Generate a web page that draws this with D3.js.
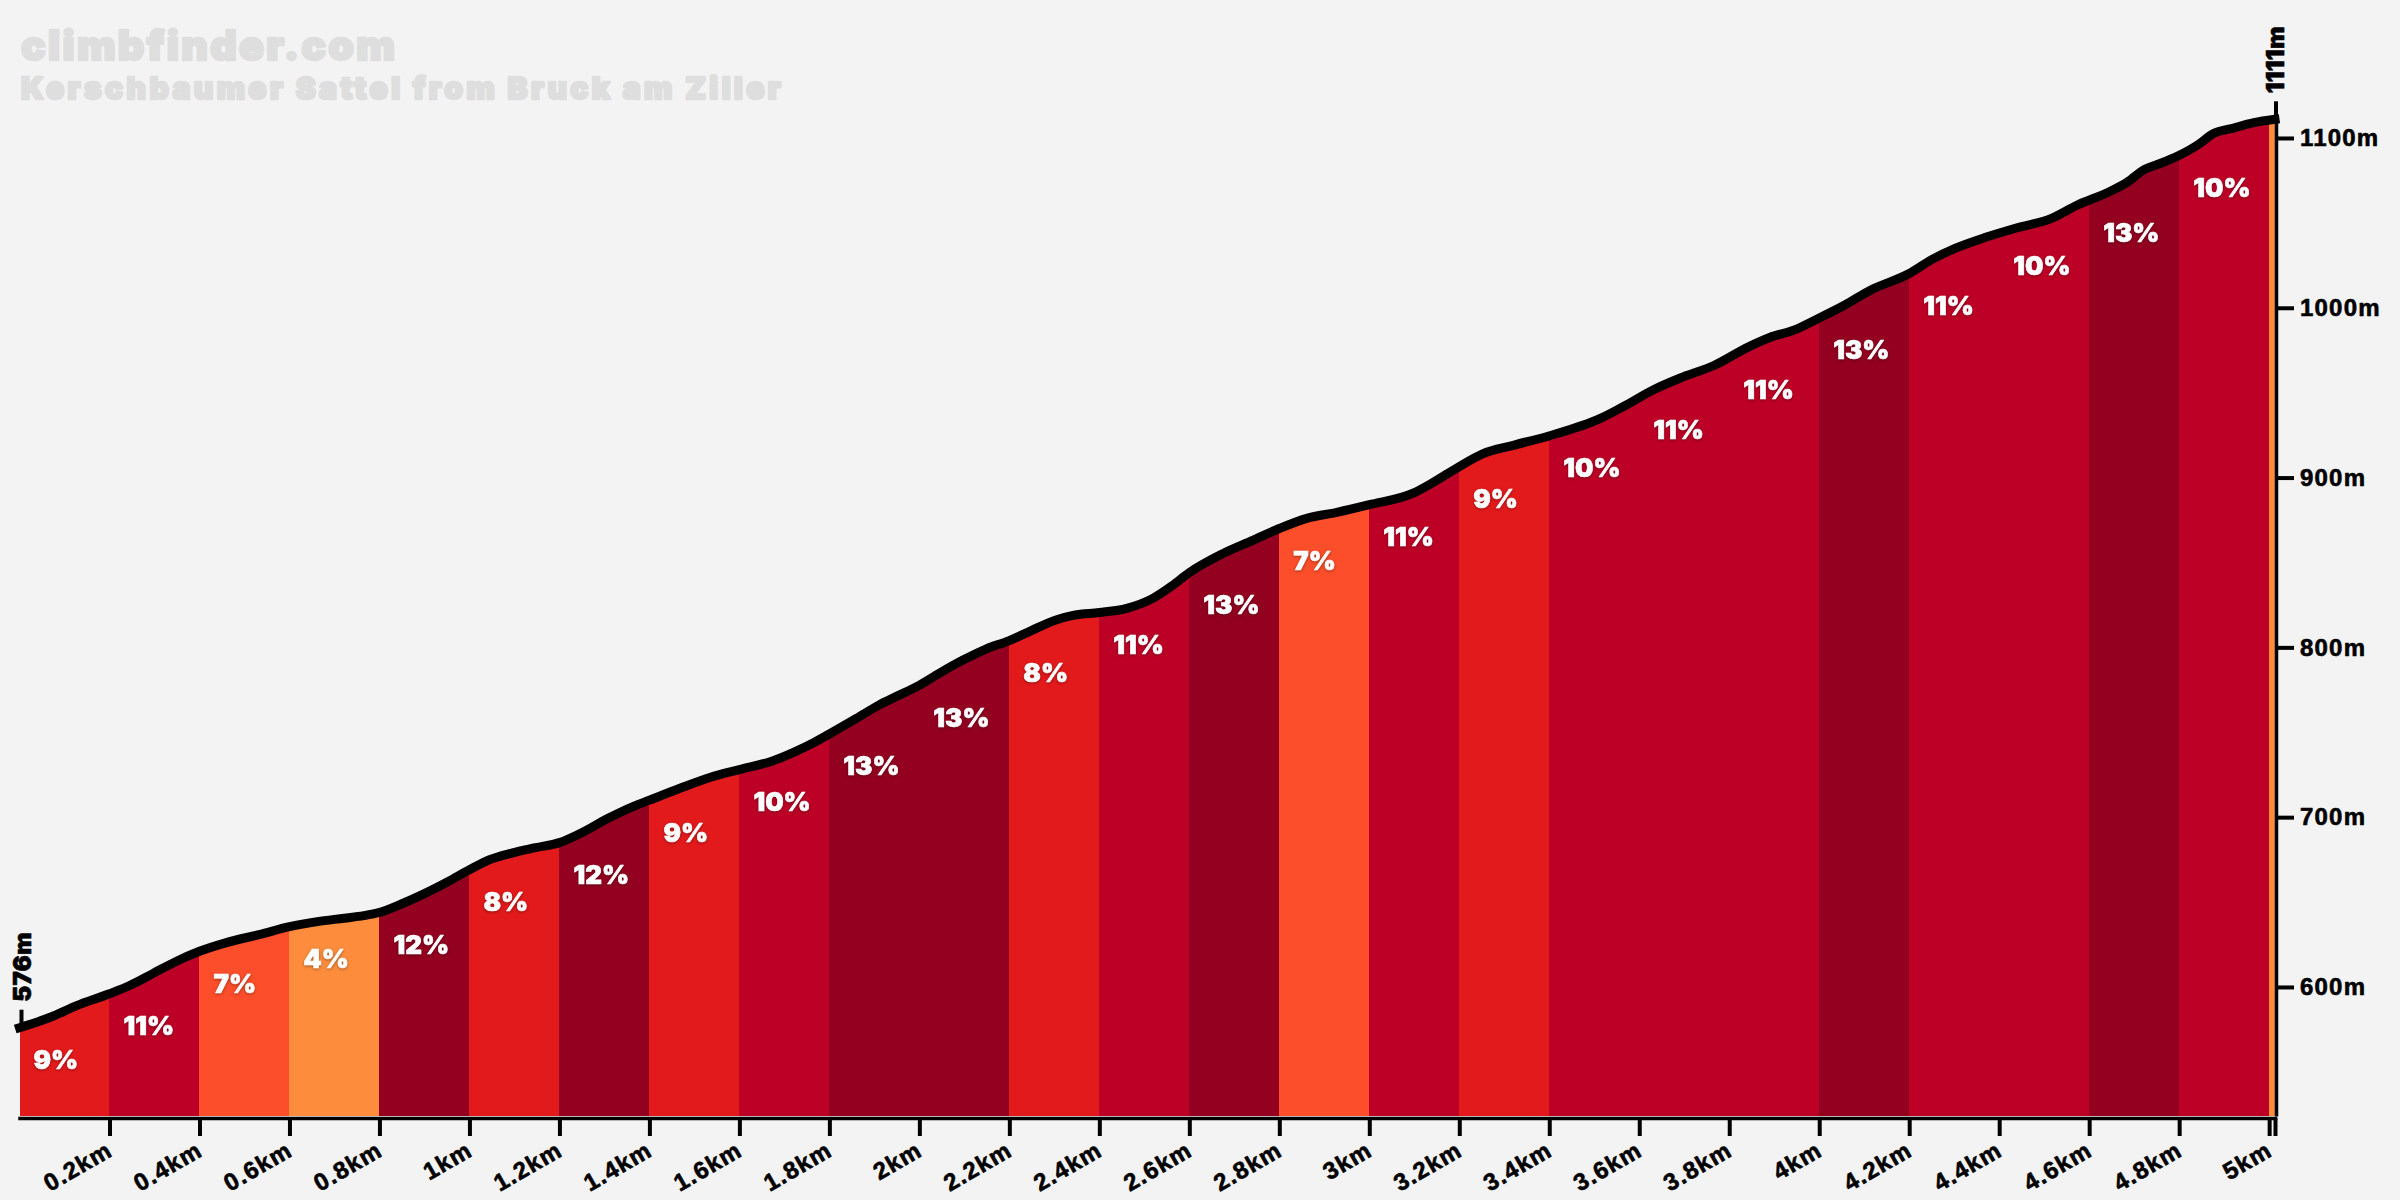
<!DOCTYPE html>
<html lang="en">

<head>
    <meta charset="UTF-8">
    <title>Kerschbaumer Sattel from Bruck am Ziller</title>
    <script src="https://d3js.org/d3.v7.min.js"></script>
    <style>
        html, body {
            margin: 0;
            background: #f3f3f3;
        }

        svg {
            display: block;
            font-family: Inter, sans-serif;
            font-weight: 900;
        }

        .title {
            fill: #dedede;
            stroke: #dedede;
            stroke-width: 2.5;
            stroke-linejoin: round;
        }

        .axis-label, .axis text {
            font-size: 24px;
            letter-spacing: 1.2px;
            fill: #000;
            stroke: #000;
            stroke-width: 0.6;
            stroke-linejoin: round;
        }

        .axis-label {
            letter-spacing: 0.2px;
        }

        .axis line {
            stroke: #000;
            stroke-width: 4;
            fill: none;
        }

        .axis path {
            stroke: #000;
            stroke-width: 3.5;
            fill: none;
        }

        .grade {
            font-size: 26px;
            fill: #fff;
            stroke: #fff;
            stroke-width: 0.6;
            stroke-linejoin: round;
            filter: drop-shadow(0 1px 1.5px rgba(0, 0, 0, 0.35));
        }
    </style>
</head>

<body>
    <div id="chart"></div>

    <script>
        const siteName = "climbfinder.com";
        const climbName = "Kerschbaumer Sattel from Bruck am Ziller";

        const distance = [0, 0.067, 0.127, 0.2, 0.246, 0.297, 0.348, 0.4, 0.458, 0.535, 0.6, 0.662, 0.722, 0.765, 0.801,
            0.85, 0.9, 0.952, 1, 1.045, 1.096, 1.147, 1.2, 1.247, 1.306, 1.366, 1.4, 1.468, 1.536, 1.6, 1.672, 1.723,
            1.766, 1.8, 1.859, 1.91, 1.948, 1.995, 2.046, 2.097, 2.148, 2.2, 2.25, 2.302, 2.344, 2.4, 2.461, 2.52,
            2.563, 2.6, 2.673, 2.741, 2.8, 2.861, 2.928, 3, 3.099, 3.141, 3.2, 3.252, 3.32, 3.399, 3.515, 3.566, 3.634,
            3.69, 3.766, 3.843, 3.89, 3.945, 4, 4.056, 4.115, 4.199, 4.251, 4.302, 4.37, 4.438, 4.515, 4.574, 4.646,
            4.685, 4.723, 4.753, 4.798, 4.847, 4.872, 4.923, 4.966, 5.013];
        const elevation = [576, 582, 589, 596, 601, 608, 615, 621, 626, 631, 635.5, 638.5, 640.5, 642, 644,
            649, 655, 662, 669, 675, 679, 682, 685, 690.5, 699, 706.5, 710, 717, 723.5, 728, 733, 738.5,
            744, 749, 758, 766, 771, 777, 785, 792.5, 799, 804, 810, 816, 819, 820.5, 823, 829,
            836.5, 844, 855, 863, 870, 876, 879.5, 884, 891, 897, 906.5, 914, 919, 924.5, 935, 942, 952,
            958.5, 966, 977, 982.5, 987, 994, 1001.5, 1010.5, 1020, 1028.5, 1035, 1041.5, 1047, 1052.5, 1060.5, 1068.5,
            1074, 1081.5, 1084.5, 1089.5, 1097, 1102, 1106, 1109, 1111];

        // one grade per 0.2km stretch, the last stretch is the short rest after 5km
        const segmentStart = d3.range(0, 26).map(i => +(i * 0.2).toFixed(1));
        const grades = [9, 11, 7, 4, 12, 8, 12, 9, 10, 13, 13, 8, 11, 13, 7, 11, 9, 10, 11, 11, 13, 11, 10, 13, 10, 4];
        const distanceTicks = d3.range(1, 26).map(i => +(i * 0.2).toFixed(1));
        const elevationTicks = [600, 700, 800, 900, 1000, 1100];

        const totalDistance = distance[distance.length - 1];
        const profile = distance.map((d, i) => ({ km: d, m: elevation[i] }));

        const x = d3.scaleLinear().domain([0, totalDistance]).range([19.5, 2275]);
        const y = d3.scaleLinear().domain([524, 1111]).range([1116, 119.3]);
        const elevationAt = d3.scaleLinear().domain(distance).range(elevation);

        const color = d3.scaleThreshold()
            .domain([5, 8, 10, 12])
            .range(["#fd8d3c", "#fc4e2a", "#e31a1c", "#bd0026", "#930020"]);

        const svg = d3.select("#chart")
            .append("svg")
            .attr("width", 2400)
            .attr("height", 1200);

        const line = d3.line().x(d => x(d.km)).y(d => y(d.m)).curve(d3.curveMonotoneX);
        const area = d3.area().x(d => x(d.km)).y0(y(524)).y1(d => y(d.m)).curve(d3.curveMonotoneX);

        svg.append("clipPath").attr("id", "below-line")
            .append("path").attr("d", area(profile));

        const nextStart = i => i + 1 < segmentStart.length ? segmentStart[i + 1] : totalDistance;

        svg.append("g")
            .attr("clip-path", "url(#below-line)")
            .selectAll("rect")
            .data(segmentStart)
            .enter().append("rect")
            .attr("x", d => x(d))
            .attr("width", (d, i) => x(nextStart(i)) - x(d))
            .attr("y", y(1111))
            .attr("height", y(524) - y(1111))
            .attr("shape-rendering", "crispEdges")
            .attr("fill", (d, i) => color(grades[i]));

        // Add grade labels
        svg.selectAll(".grade")
            .data(segmentStart.slice(0, -1))
            .enter().append("text")
            .attr("class", "grade")
            .attr("x", d => x(d) + 14)
            .attr("y", d => y(elevationAt(d)) + 41.5)
            .text((d, i) => `${grades[i]}%`);

        const xAxis = svg.append("g")
            .attr("class", "axis")
            .attr("transform", `translate(0,${y(524) + 2})`)
            .call(d3.axisBottom(x)
                .tickValues(distanceTicks.concat(totalDistance))
                .tickSize(18)
                .tickSizeOuter(0)
                .tickFormat(d => d === totalDistance ? "" : `${d}km`));
        xAxis.select(".domain").attr("stroke-linecap", "square");
        xAxis.selectAll("text")
            .style("text-anchor", "end")
            .attr("x", 0)
            .attr("y", 0)
            .attr("dy", 0)
            .attr("transform", "translate(4,37) rotate(-30)");

        svg.append("g")
            .attr("class", "axis")
            .attr("transform", `translate(${x(totalDistance) + 1},0)`)
            .call(d3.axisRight(y)
                .tickValues(elevationTicks)
                .tickSize(18)
                .tickSizeOuter(0)
                .tickPadding(6)
                .tickFormat(d => `${d}m`));

        svg.append("path")
            .attr("d", line(profile))
            .attr("fill", "none")
            .attr("stroke", "#000")
            .attr("stroke-linecap", "square")
            .attr("stroke-width", 9);

        // Start and finish heights
        const ends = [{ km: 0, m: 576 }, { km: totalDistance, m: 1111 }];

        svg.selectAll(".end-tick")
            .data(ends)
            .enter().append("line")
            .attr("class", "end-tick")
            .attr("x1", d => x(d.km) + (d.km ? 1 : 2))
            .attr("x2", d => x(d.km) + (d.km ? 1 : 2))
            .attr("y1", d => y(d.m))
            .attr("y2", d => y(d.m) - 18)
            .attr("stroke", "#000")
            .attr("stroke-width", 4);

        svg.selectAll(".axis-label")
            .data(ends)
            .enter().append("text")
            .attr("class", "axis-label")
            .attr("transform", d => `translate(${x(d.km) + (d.km ? 9 : 11)},${y(d.m) - 26}) rotate(-90)`)
            .text(d => `${d.m}m`);

        svg.append("text").attr("class", "title")
            .attr("x", 21).attr("y", 60)
            .style("font-size", "41px")
            .style("letter-spacing", "2.3px")
            .text(siteName);

        svg.append("text").attr("class", "title")
            .attr("x", 21).attr("y", 98.5)
            .style("font-size", "30px")
            .style("letter-spacing", "3.4px")
            .text(climbName);
    </script>
</body>

</html>
